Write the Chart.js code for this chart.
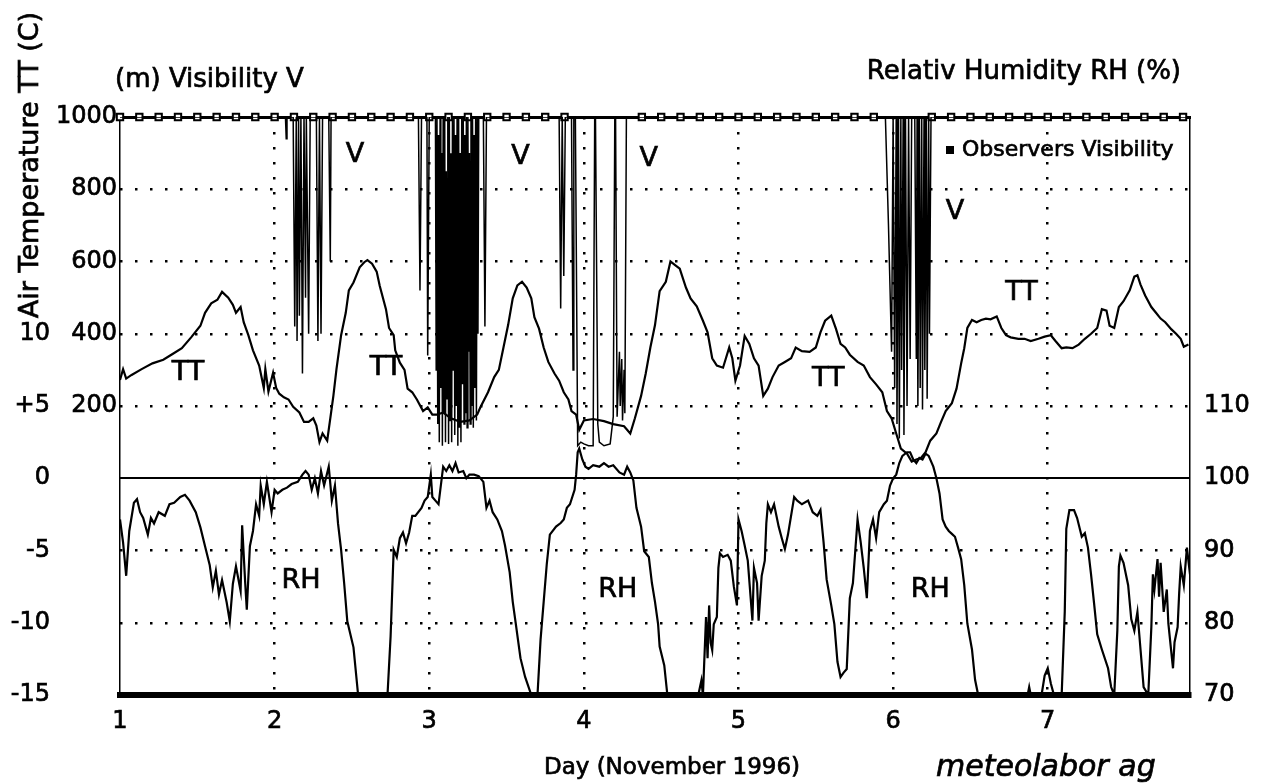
<!DOCTYPE html>
<html>
<head>
<meta charset="utf-8">
<title>Air Temperature, Relative Humidity and Visibility - November 1996</title>
<script src="https://cdn.jsdelivr.net/npm/chart.js@4.4.1/dist/chart.umd.min.js"></script>
<style>
  html, body { margin: 0; padding: 0; background: #fff; }
  #wrap { width: 1270px; height: 784px; }
</style>
</head>
<body>
<div id="wrap"><canvas id="meteoChart" width="1270" height="784"></canvas></div>
<script>
// x values are days of November 1996 (fractional)
let dayTicks = [1, 2, 3, 4, 5, 6, 7];

// left axis tick labels
let ttTicks = [-15, -10, -5, 0, 5, 10];
let ttTickLabels = ["-15", "-10", "-5", "0", "+5", "10"];
let vTicks = [200, 400, 600, 800, 1000];
let rhTicks = [70, 80, 90, 100, 110];

// air temperature TT (C)
let ttDays = [
  1.00, 1.02, 1.04, 1.075, 1.14, 1.21, 1.28, 1.34, 1.40, 1.46,
  1.52, 1.55, 1.59, 1.63, 1.66, 1.70, 1.73, 1.75, 1.78, 1.80,
  1.83, 1.86, 1.90, 1.93, 1.94, 1.96, 1.99, 2.01, 2.03, 2.06,
  2.09, 2.12, 2.16, 2.19, 2.22, 2.25, 2.27, 2.29, 2.31, 2.34,
  2.36, 2.38, 2.40, 2.43, 2.46, 2.48, 2.51, 2.55, 2.58, 2.60,
  2.63, 2.66, 2.68, 2.72, 2.74, 2.77, 2.78, 2.81, 2.84, 2.86,
  2.89, 2.92, 2.96, 2.99, 3.02, 3.05, 3.09, 3.14, 3.20, 3.26,
  3.31, 3.33, 3.38, 3.42, 3.45, 3.48, 3.51, 3.54, 3.57, 3.60,
  3.63, 3.66, 3.68, 3.71, 3.74, 3.77, 3.81, 3.84, 3.87, 3.90,
  3.92, 3.95, 3.97, 4.00, 4.06, 4.13, 4.19, 4.26, 4.30, 4.33,
  4.37, 4.40, 4.43, 4.46, 4.49, 4.53, 4.56, 4.59, 4.62, 4.66,
  4.69, 4.73, 4.77, 4.80, 4.83, 4.86, 4.90, 4.94, 4.96, 4.98,
  5.01, 5.04, 5.07, 5.10, 5.13, 5.16, 5.19, 5.22, 5.26, 5.30,
  5.34, 5.37, 5.41, 5.46, 5.50, 5.53, 5.56, 5.60, 5.63, 5.66,
  5.69, 5.72, 5.77, 5.81, 5.85, 5.89, 5.93, 5.96, 5.99, 6.02,
  6.05, 6.09, 6.12, 6.15, 6.18, 6.21, 6.24, 6.28, 6.31, 6.34,
  6.38, 6.41, 6.44, 6.46, 6.48, 6.51, 6.54, 6.57, 6.60, 6.63,
  6.67, 6.70, 6.73, 6.76, 6.81, 6.85, 6.89, 6.94, 6.98, 7.02,
  7.05, 7.09, 7.12, 7.16, 7.20, 7.24, 7.28, 7.32, 7.35, 7.38,
  7.40, 7.43, 7.46, 7.49, 7.53, 7.56, 7.58, 7.60, 7.63, 7.67,
  7.70, 7.73, 7.76, 7.80, 7.83, 7.86, 7.88, 7.91
];
let ttValues = [
  6.8, 7.55, 6.9, 7.15, 7.55, 7.95, 8.2, 8.6, 9.0, 9.75,
  10.55, 11.45, 12.1, 12.35, 12.9, 12.5, 12.0, 11.45, 11.85, 10.8,
  9.9, 8.85, 7.8, 6.25, 7.55, 6.0, 7.3, 6.25, 5.85, 5.6,
  5.45, 4.95, 4.55, 3.9, 3.9, 4.15, 3.65, 2.5, 3.1, 2.6,
  4.15, 5.7, 7.55, 9.9, 11.45, 13.0, 13.55, 14.6, 14.95, 15.1,
  14.85, 14.3, 13.3, 11.7, 10.4, 9.9, 8.85, 8.0, 7.5, 6.2,
  5.95, 5.45, 4.65, 4.9, 4.4, 4.4, 4.55, 4.15, 3.9, 4.0,
  4.4, 4.9, 5.95, 7.0, 7.5, 9.05, 10.6, 12.45, 13.35, 13.6,
  13.2, 12.45, 11.15, 10.35, 9.05, 8.05, 7.25, 6.75, 5.95, 5.45,
  4.65, 4.4, 3.35, 4.0, 4.1, 3.95, 3.75, 3.6, 3.1, 4.15,
  5.7, 7.25, 9.05, 10.6, 12.95, 13.6, 15.0, 14.75, 14.5, 13.2,
  12.45, 11.9, 10.9, 10.1, 8.3, 7.8, 7.65, 9.05, 8.3, 6.75,
  7.8, 9.85, 9.3, 8.3, 7.8, 5.7, 6.2, 7.0, 7.8, 8.05,
  8.3, 9.05, 8.8, 8.75, 9.05, 10.1, 10.9, 11.25, 10.35, 9.3,
  9.05, 8.55, 8.05, 7.8, 7.0, 6.5, 5.95, 4.65, 4.15, 3.1,
  2.05, 1.7, 1.15, 1.3, 1.4, 1.8, 2.6, 3.1, 3.9, 4.65,
  5.2, 6.2, 7.95, 9.0, 10.4, 10.95, 10.8, 10.95, 11.05, 11.0,
  11.2, 10.4, 9.9, 9.75, 9.65, 9.65, 9.5, 9.65, 9.8, 9.9,
  9.5, 9.0, 9.05, 9.0, 9.25, 9.65, 10.0, 10.4, 11.7, 11.6,
  10.55, 10.4, 11.85, 12.25, 13.0, 13.95, 14.05, 13.4, 12.65, 11.85,
  11.45, 11.05, 10.8, 10.3, 10.0, 9.65, 9.1, 9.25
];

// relative humidity RH (%), 70 = bottom of scale
let rhDays = [
  1.00, 1.02, 1.04, 1.06, 1.09, 1.11, 1.13, 1.15, 1.18, 1.20,
  1.22, 1.25, 1.29, 1.32, 1.35, 1.39, 1.42, 1.45, 1.49, 1.52,
  1.55, 1.58, 1.60, 1.62, 1.64, 1.66, 1.69, 1.71, 1.73, 1.75,
  1.78, 1.79, 1.81, 1.82, 1.84, 1.86, 1.88, 1.90, 1.91, 1.93,
  1.95, 1.98, 2.00, 2.02, 2.05, 2.08, 2.11, 2.15, 2.18, 2.20,
  2.22, 2.24, 2.26, 2.28, 2.30, 2.32, 2.35, 2.37, 2.39, 2.41,
  2.43, 2.45, 2.47, 2.51, 2.54, 2.73, 2.75, 2.77, 2.79, 2.81,
  2.83, 2.85, 2.87, 2.89, 2.91, 2.95, 2.97, 2.99, 3.01, 3.02,
  3.04, 3.06, 3.09, 3.11, 3.13, 3.15, 3.17, 3.19, 3.22, 3.24,
  3.26, 3.29, 3.32, 3.35, 3.37, 3.39, 3.41, 3.44, 3.47, 3.49,
  3.52, 3.54, 3.56, 3.59, 3.62, 3.66, 3.70, 3.72, 3.74, 3.76,
  3.78, 3.82, 3.85, 3.87, 3.89, 3.91, 3.94, 3.95, 3.96, 3.97,
  3.99, 4.01, 4.03, 4.06, 4.10, 4.13, 4.16, 4.19, 4.23, 4.26,
  4.28, 4.30, 4.32, 4.34, 4.37, 4.39, 4.42, 4.44, 4.46, 4.48,
  4.49, 4.52, 4.54, 4.74, 4.76, 4.77, 4.79, 4.80, 4.81, 4.82,
  4.83, 4.84, 4.86, 4.87, 4.88, 4.90, 4.93, 4.95, 4.97, 4.99,
  5.00, 5.02, 5.04, 5.06, 5.09, 5.10, 5.12, 5.13, 5.15, 5.17,
  5.18, 5.19, 5.21, 5.23, 5.26, 5.28, 5.30, 5.32, 5.34, 5.36,
  5.38, 5.41, 5.45, 5.48, 5.51, 5.53, 5.55, 5.57, 5.60, 5.62,
  5.64, 5.66, 5.68, 5.70, 5.72, 5.74, 5.77, 5.79, 5.81, 5.83,
  5.85, 5.87, 5.89, 5.91, 5.94, 5.96, 5.98, 6.00, 6.02, 6.04,
  6.06, 6.09, 6.11, 6.13, 6.15, 6.17, 6.19, 6.21, 6.23, 6.26,
  6.28, 6.30, 6.32, 6.34, 6.36, 6.38, 6.40, 6.42, 6.44, 6.46,
  6.48, 6.51, 6.53, 6.55, 6.87, 6.88, 6.89, 6.96, 6.98, 7.00,
  7.02, 7.04, 7.09, 7.11, 7.12, 7.14, 7.17, 7.19, 7.22, 7.24,
  7.26, 7.28, 7.30, 7.32, 7.35, 7.39, 7.41, 7.43, 7.45, 7.46,
  7.47, 7.49, 7.52, 7.54, 7.56, 7.58, 7.60, 7.62, 7.65, 7.67,
  7.68, 7.69, 7.71, 7.72, 7.73, 7.75, 7.77, 7.78, 7.81, 7.82,
  7.84, 7.85, 7.86, 7.88, 7.90, 7.92
];
let rhValues = [
  94.3, 91.1, 86.5, 92.7, 96.6, 97.1, 95.3, 94.5, 92.2, 94.5,
  93.75, 95.3, 94.8, 96.4, 96.6, 97.4, 97.7, 96.9, 95.3, 93.2,
  90.6, 88.0, 84.9, 87.2, 83.9, 85.9, 82.8, 80.2, 85.4, 87.8,
  84.4, 93.5, 85.4, 81.8, 90.6, 92.7, 96.4, 94.8, 99.0, 96.4,
  99.5, 95.3, 98.4, 97.9, 98.4, 98.7, 99.2, 99.5, 100.5, 101.0,
  100.5, 98.4, 100.0, 97.9, 101.0, 99.0, 101.6, 96.9, 99.0, 93.75,
  90.1, 85.4, 80.2, 76.6, 70, 70, 78.1, 90.1, 89.1, 91.7,
  92.5, 91.0, 92.5, 94.8, 94.8, 95.9, 96.9, 97.4, 100.5, 97.4,
  96.9, 96.4, 101.6, 101.0, 101.8, 101.0, 102.1, 100.8, 101.0, 100.0,
  100.5, 100.5, 100.3, 99.5, 95.9, 96.9, 95.3, 94.3, 92.7, 90.7,
  87.0, 82.9, 79.8, 75.1, 72.5, 70, 70, 77.7, 82.9, 88.1,
  92.2, 93.3, 93.8, 94.3, 95.9, 96.4, 98.4, 100.5, 103.6, 104.1,
  102.6, 101.6, 101.3, 101.8, 101.6, 102.1, 101.6, 101.8, 100.8, 100.5,
  101.6, 100.8, 99.7, 95.9, 93.3, 89.9, 89.1, 85.5, 82.9, 79.8,
  76.7, 74.1, 70, 70, 72, 70, 80.8, 75.1, 82.4, 77.2,
  76.2, 79.8, 80.8, 87.6, 89.6, 89.1, 89.4, 88.6, 85.0, 82.4,
  94.3, 92.7, 90.7, 88.6, 80.3, 87.6, 85.5, 80.3, 86.5, 88.6,
  93.8, 96.4, 95.3, 96.4, 93.3, 91.7, 90.2, 92.2, 94.8, 97.4,
  96.9, 96.4, 96.9, 95.3, 94.8, 95.6, 91.2, 86.0, 82.4, 79.8,
  74.6, 72.5, 73.1, 73.6, 83.4, 85.5, 94.3, 91.2, 87.6, 83.4,
  92.7, 94.3, 91.7, 95.3, 96.4, 96.9, 99.0, 100, 100.5, 102.1,
  103.1, 103.6, 103.6, 102.6, 102.1, 102.8, 102.6, 103.4, 103.1, 101.6,
  100, 97.9, 94.3, 93.3, 92.7, 92.3, 91.9, 90.4, 88.8, 85.2,
  79.9, 76.3, 72.1, 70, 70, 71.1, 70, 70, 72.7, 73.7,
  71.6, 70, 70, 81.5, 93.0, 95.6, 95.6, 94.5, 91.9, 92.4,
  90.4, 86.7, 82.6, 78.4, 76.3, 73.7, 71.1, 70, 78.9, 87.8,
  89.3, 88.3, 85.2, 80.5, 78.9, 81.5, 76.3, 71.1, 70, 79.4,
  86.7, 84.6, 88.8, 83.6, 88.3, 81.5, 84.6, 79.9, 73.7, 77.3,
  79.4, 84.1, 87.8, 85.2, 90.4, 86.7
];

// visibility V (m), instrument saturates at 1000
let vDays = [
  1.00, 2.07, 2.075, 2.08,
  2.12, 2.13, 2.14, 2.145, 2.155, 2.16, 2.17, 2.18, 2.19, 2.20, 2.205, 2.22, 2.23,
  2.27, 2.28, 2.29, 2.30, 2.31, 2.35, 2.36, 2.365,
  2.93, 2.94, 2.95, 2.985, 2.99, 3.00,
  3.040, 3.045, 3.050, 3.055, 3.060, 3.065, 3.070, 3.075, 3.080, 3.085,
  3.090, 3.095, 3.100, 3.105, 3.110, 3.115, 3.120, 3.125, 3.130, 3.135,
  3.140, 3.145, 3.150, 3.155, 3.160, 3.165, 3.170, 3.175, 3.180, 3.185,
  3.190, 3.195, 3.200, 3.205, 3.210, 3.215, 3.220, 3.225, 3.230, 3.235,
  3.240, 3.245, 3.250, 3.255, 3.260, 3.265, 3.270, 3.275, 3.280, 3.285,
  3.290, 3.295, 3.300, 3.305, 3.310, 3.315, 3.320,
  3.35, 3.36, 3.37,
  3.84, 3.85, 3.86, 3.87, 3.88, 3.92, 3.93, 3.935, 3.945, 3.96, 3.98, 4.00, 4.03, 4.06,
  4.07, 4.075, 4.09, 4.10, 4.13, 4.17, 4.19, 4.20, 4.205, 4.215, 4.23, 4.235, 4.245, 4.25, 4.26, 4.265, 4.275,
  5.95, 5.97, 5.99, 6.00, 6.01, 6.02, 6.025, 6.035, 6.04, 6.05, 6.055, 6.065, 6.07, 6.08, 6.09, 6.10, 6.11, 6.12,
  6.14, 6.15, 6.155, 6.16, 6.17, 6.175, 6.185, 6.19, 6.20, 6.205, 6.215, 6.22, 6.23, 6.235, 6.245,
  7.92
];
let vValues = [
  1000, 1000, 940, 1000,
  1000, 420, 1000, 380, 1000, 450, 1000, 290, 1000, 500, 1000, 400, 1000,
  1000, 380, 1000, 400, 1000, 1000, 600, 1000,
  1000, 520, 1000, 1000, 340, 1000,
  1000, 300, 1000, 150, 950, 100, 1000, 250, 900, 90,
  1000, 180, 1000, 100, 850, 220, 1000, 95, 1000, 160,
  900, 100, 1000, 300, 1000, 120, 950, 200, 1000, 90,
  1000, 140, 900, 100, 1000, 260, 1000, 150, 950, 180,
  1000, 140, 1000, 350, 900, 150, 1000, 200, 1000, 140,
  950, 250, 1000, 160, 1000, 400, 1000,
  1000, 420, 1000,
  1000, 470, 1000, 560, 1000, 1000, 300, 1000, 1000, 90, 100, 95, 90, 90,
  1000, 1000, 150, 100, 90, 95, 170, 1000, 1000, 170, 350, 200, 330, 160, 300, 180, 1000,
  1000, 700, 350, 1000, 250, 1000, 150, 1000, 110, 1000, 300, 1000, 120, 1000, 200, 1000, 330, 1000,
  1000, 330, 1000, 200, 1000, 250, 1000, 190, 1000, 300, 1000, 220, 1000, 400, 1000,
  1000
];

// observers visibility (m), 3-hourly
let obsDays = [
  1.000, 1.125, 1.250, 1.375, 1.500, 1.625, 1.750, 1.875,
  2.000, 2.125, 2.250, 2.375, 2.500, 2.625, 2.750, 2.875,
  3.000, 3.125, 3.250, 3.375, 3.500, 3.625, 3.750, 3.875,
  4.375, 4.500, 4.625, 4.750, 4.875,
  5.000, 5.125, 5.250, 5.375, 5.500, 5.625, 5.750, 5.875,
  6.250, 6.375, 6.500, 6.625, 6.750, 6.875,
  7.000, 7.125, 7.250, 7.375, 7.500, 7.625, 7.750, 7.875
];
let obsValues = [
  1000, 1000, 1000, 1000, 1000, 1000, 1000, 1000,
  1000, 1000, 1000, 1000, 1000, 1000, 1000, 1000,
  1000, 1000, 1000, 1000, 1000, 1000, 1000, 1000,
  1000, 1000, 1000, 1000, 1000,
  1000, 1000, 1000, 1000, 1000, 1000, 1000, 1000,
  1000, 1000, 1000, 1000, 1000, 1000,
  1000, 1000, 1000, 1000, 1000, 1000, 1000, 1000
];

const FONT = "DejaVu Sans";
const dotted = [2.5, 12.5];

function toPoints(xs, ys) {
  return xs.map((x, i) => ({ x: x, y: ys[i] }));
}

// fill plus a thin stroke, the scanned lettering is heavy
function heavyText(ctx, text, x, y) {
  ctx.fillText(text, x, y);
  ctx.strokeText(text, x, y);
}

// titles and in-plot labels
const textPlugin = {
  id: "meteoTexts",
  afterDraw(chart) {
    const ctx = chart.ctx;
    const xs = chart.scales.x;
    const yt = chart.scales.yTT;
    ctx.save();
    ctx.fillStyle = "#000";
    ctx.strokeStyle = "#000";
    ctx.lineWidth = 0.7;
    ctx.textBaseline = "middle";

    ctx.font = "26px '" + FONT + "'";
    ctx.textAlign = "left";
    heavyText(ctx, "(m) Visibility V", 115, 80);
    ctx.textAlign = "right";
    heavyText(ctx, "Relativ Humidity RH (%)", 1181, 72);

    ctx.save();
    ctx.font = "27px '" + FONT + "'";
    ctx.translate(31, 165);
    ctx.rotate(-Math.PI / 2);
    ctx.textAlign = "center";
    heavyText(ctx, "Air Temperature TT (C)", 0, 0);
    ctx.restore();

    // curve names, placed in data units
    const names = [
      ["TT", 1.44, 7.3], ["TT", 2.72, 7.6], ["TT", 5.58, 6.9], ["TT", 6.83, 12.8],
      ["V", 2.52, 22.35], ["V", 3.59, 22.2], ["V", 4.42, 22.1], ["V", 6.40, 18.4],
      ["RH", 2.17, -7.1], ["RH", 4.22, -7.75], ["RH", 6.24, -7.75]
    ];
    ctx.font = "27px '" + FONT + "'";
    ctx.textAlign = "center";
    names.forEach(n => heavyText(ctx, n[0], xs.getPixelForValue(n[1]), yt.getPixelForValue(n[2])));

    // legend entry
    ctx.fillRect(946, 146, 8, 8);
    ctx.font = "22px '" + FONT + "'";
    ctx.textAlign = "left";
    heavyText(ctx, "Observers Visibility", 962, 150);

    ctx.font = "23px '" + FONT + "'";
    ctx.textAlign = "center";
    heavyText(ctx, "Day (November 1996)", 672, 768);
    ctx.font = "italic 30px '" + FONT + "'";
    ctx.textAlign = "left";
    heavyText(ctx, "meteolabor ag", 936, 768);
    ctx.restore();
  }
};

const tickFont = { family: FONT, size: 24 };

let meteoChart = new Chart(document.getElementById("meteoChart").getContext("2d"), {
  type: "line",
  data: {
    datasets: [
      {
        label: "Air Temperature TT",
        data: toPoints(ttDays, ttValues),
        yAxisID: "yTT",
        borderColor: "#000",
        borderWidth: 2.2,
        pointRadius: 0,
        tension: 0
      },
      {
        label: "Relativ Humidity RH",
        data: toPoints(rhDays, rhValues),
        yAxisID: "yRH",
        borderColor: "#000",
        borderWidth: 2.2,
        pointRadius: 0,
        tension: 0
      },
      {
        label: "Visibility V",
        data: toPoints(vDays, vValues),
        yAxisID: "yV",
        borderColor: "#000",
        borderWidth: 1.5,
        pointRadius: 0,
        tension: 0
      },
      {
        label: "Observers Visibility",
        data: toPoints(obsDays, obsValues),
        yAxisID: "yV",
        showLine: false,
        pointStyle: "rect",
        pointRadius: 4.5,
        pointBackgroundColor: "#fff",
        pointBorderColor: "#000",
        pointBorderWidth: 2,
        clip: false
      }
    ]
  },
  options: {
    responsive: false,
    animation: false,
    devicePixelRatio: 1,
    layout: { padding: { top: 117, left: 0, right: 0, bottom: 0 } },
    plugins: {
      legend: { display: false },
      tooltip: { enabled: false }
    },
    scales: {
      x: {
        type: "linear",
        position: "bottom",
        min: 1,
        max: 7.92,
        afterFit: (s) => { s.height = 89; },
        afterBuildTicks: (s) => { s.ticks = dayTicks.map(v => ({ value: v })); },
        ticks: { padding: 12, color: "#000", font: tickFont, maxRotation: 0, textStrokeColor: "#000", textStrokeWidth: 0.7 },
        grid: {
          drawTicks: false,
          lineWidth: 2.5,
          color: (c) => (c.tick && c.tick.value === 1) ? "rgba(0,0,0,0)" : "#000"
        },
        border: { display: true, color: "#000", width: 6, dash: dotted }
      },
      xTop: {
        type: "linear",
        position: "top",
        min: 1,
        max: 7.92,
        afterFit: (s) => { s.height = 0; },
        ticks: { display: false },
        grid: { display: false, drawTicks: false },
        border: { display: true, color: "#000", width: 3 }
      },
      yTT: {
        type: "linear",
        position: "left",
        weight: 1,
        min: -15,
        max: 25,
        afterFit: (s) => { s.width = 55; },
        ticks: {
          stepSize: 5,
          padding: 5,
          color: "#000",
          font: tickFont,
          textStrokeColor: "#000",
          textStrokeWidth: 0.7,
          callback: (v) => {
            const i = ttTicks.indexOf(v);
            return i < 0 ? "" : ttTickLabels[i];
          }
        },
        grid: {
          drawTicks: false,
          lineWidth: (c) => (c.tick && c.tick.value === 0) ? 2 : 2.5,
          color: (c) => (c.tick && (c.tick.value === -15 || c.tick.value === 25)) ? "rgba(0,0,0,0)" : "#000"
        },
        border: {
          display: false,
          dash: (c) => (c.tick && c.tick.value === 0) ? [] : dotted
        }
      },
      yV: {
        type: "linear",
        position: "left",
        weight: 0,
        min: -600,
        max: 1000,
        afterFit: (s) => { s.width = 65; },
        ticks: {
          stepSize: 200,
          padding: 3,
          color: "#000",
          font: tickFont,
          textStrokeColor: "#000",
          textStrokeWidth: 0.7,
          callback: (v) => vTicks.includes(v) ? String(v) : ""
        },
        grid: { display: false, drawTicks: false },
        border: { display: true, color: "#000", width: 1.5 }
      },
      yRH: {
        type: "linear",
        position: "right",
        min: 70,
        max: 150,
        afterFit: (s) => { s.width = 80; },
        ticks: {
          stepSize: 10,
          padding: 14,
          color: "#000",
          font: tickFont,
          textStrokeColor: "#000",
          textStrokeWidth: 0.7,
          callback: (v) => rhTicks.includes(v) ? String(v) : ""
        },
        grid: { display: false, drawTicks: false },
        border: { display: true, color: "#000", width: 1.5 }
      }
    }
  },
  plugins: [textPlugin]
});
</script>
</body>
</html>
